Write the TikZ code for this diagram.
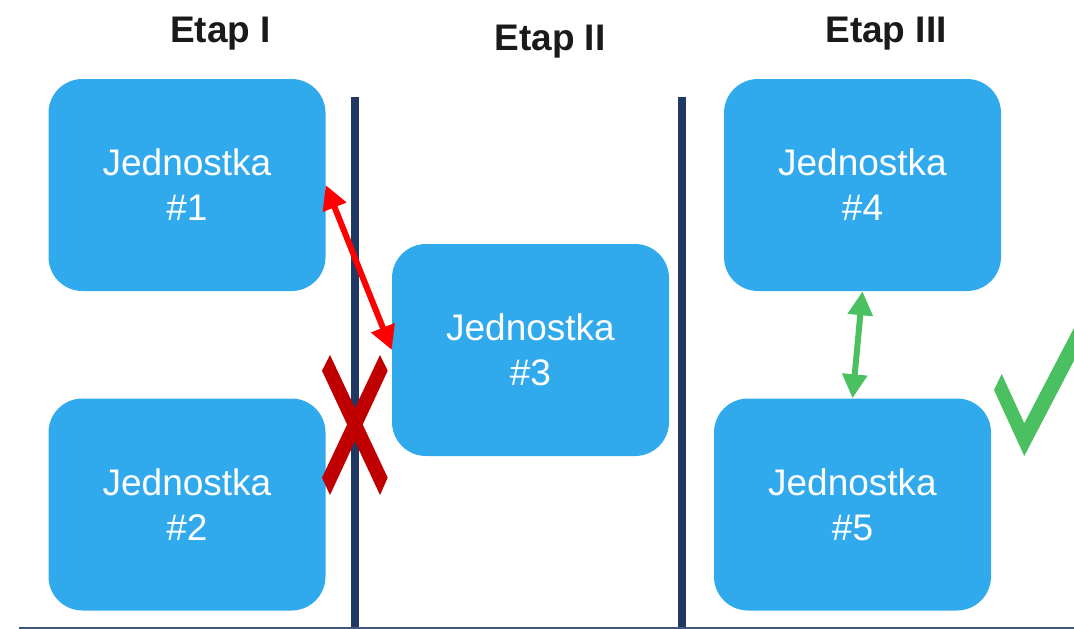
\documentclass[tikz,border=0pt]{standalone}
\usepackage{fontspec}
\setmainfont{Liberation Sans}
\usetikzlibrary{arrows.meta}
\definecolor{boxblue}{RGB}{48,170,236}
\definecolor{navy}{RGB}{31,56,100}
\definecolor{xred}{RGB}{192,0,0}
\definecolor{okgreen}{RGB}{74,192,96}
\definecolor{titleblack}{RGB}{26,26,26}
\begin{document}
\begin{tikzpicture}[x=1pt,y=-1pt,
  unit/.style={fill=boxblue, rounded corners=34pt, minimum width=277pt, minimum height=212pt,
    inner sep=0pt, text=white, align=center, font=\fontsize{37}{45}\selectfont},
  stagetitle/.style={text=titleblack, anchor=base, font=\fontsize{37}{42}\selectfont\bfseries},
  divider/.style={navy, line width=8pt},
  conn/.style={line width=6pt, {Triangle[length=24pt,width=24pt]}-{Triangle[length=24pt,width=24pt]}}]
\useasboundingbox (0,0) rectangle (1074,629);
\begin{scope}
\clip (0,0) rectangle (1074,629);
% dividers
\coordinate (d1t) at (355,97);
\coordinate (d1b) at (355,629);
\coordinate (d2t) at (682,97);
\coordinate (d2b) at (682,629);
\draw[divider] (d1t) -- (d1b);
\draw[divider] (d2t) -- (d2b);
\coordinate (bl) at (19,627.5);
\coordinate (br) at (1074,627.5);
\draw[navy!85!white, line width=2pt] (bl) -- (br);
% titles
\node[stagetitle] (t1) at (220.5,42.7) {Etap I};
\node[stagetitle] (t2) at (550,50) {Etap II};
\node[stagetitle] (t3) at (886,42.7) {Etap III};
% units
\node[unit] (n1) at (187,185) {Jednostka\\\#1};
\node[unit] (n2) at (187,504.5) {Jednostka\\\#2};
\node[unit] (n3) at (530.5,350) {Jednostka\\\#3};
\node[unit] (n4) at (862.5,185) {Jednostka\\\#4};
\node[unit] (n5) at (852.5,504.5) {Jednostka\\\#5};
% connectors
\draw[conn, red] (n1.east) -- (n3.west);
\draw[conn, okgreen] (n4.south) -- (n5.north);
% red X
\fill[xred] (322,370.7) -- (330,355) -- (387.7,477.7) -- (380,495) -- cycle;
\fill[xred] (380,355) -- (387.7,370.7) -- (330,495) -- (322,477.7) -- cycle;
% green check
\fill[okgreen] (994,390) -- (1001.7,374) -- (1024.3,423.3) -- (1124,231.9) -- (1124,264.6) -- (1024.3,456) -- cycle;
\end{scope}
\end{tikzpicture}
\end{document}
